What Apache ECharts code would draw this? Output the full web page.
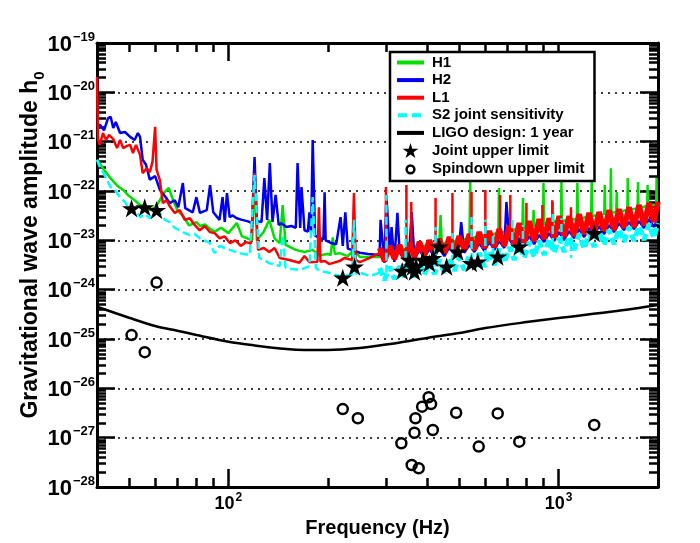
<!DOCTYPE html>
<html><head><meta charset="utf-8">
<script src="https://cdn.jsdelivr.net/npm/echarts@6/dist/echarts.min.js"></script>
<style>html,body{margin:0;padding:0;background:#fff}#c{width:700px;height:543px}</style>
</head><body><div id="c"></div>
<script>
// ---- tick positions ----
const xMajorTicks = [100, 1000];
const xMinorTicks = [50, 60, 70, 80, 90, 200, 300, 400, 500, 600, 700, 800, 900];
const yMajorTicks = [1e-28, 1e-27, 1e-26, 1e-25, 1e-24, 1e-23, 1e-22, 1e-21, 1e-20, 1e-19];
const yMinorTicks = [];
for (let e = -28; e < -19; e++) for (let m = 2; m <= 9; m++) yMinorTicks.push(+(m + 'e' + e));

// ---- data: [frequency Hz, h0] ----
const h1 = [[40,4.3e-22],[42,2.7e-22],[44,1.8e-22],[46,1.3e-22],[48,1.05e-22],[50,7.9e-23],[52,6.5e-23],[54,5.2e-23],[56,4.9e-23],[58,4.1e-23],[60,4.7e-23],[62,6.5e-23],[64,9.5e-23],[66,1.15e-22],[68,6.5e-23],[70,4.1e-23],[73,3.1e-23],[76,2.0e-23],[80,2.35e-23],[82,1.95e-23],[85,2.1e-23],[88,1.7e-23],[91,1.5e-23],[95,1.8e-23],[100,1.4e-23],[106,2.25e-23],[110,1.2e-23],[114,1.1e-23],[118,1.0e-23],[120,2.1e-22],[122,1.0e-23],[128,1.5e-23],[133,2.6e-23],[138,1.1e-23],[143,8.8e-24],[146,5.2e-23],[149,8.1e-24],[160,6.4e-24],[170,5.8e-24],[180,6.4e-24],[189,5.0e-24],[200,5.3e-24],[204,5.0e-24],[207,1.15e-23],[210,5.3e-24],[217,5.5e-24],[230,4.8e-24],[240,6.4e-24],[250,4.6e-24],[287,4.6e-24],[330,6.4e-24],[390,7.7e-24],[435,8.4e-24],[439,3.25e-23],[443,8.4e-24],[500,1.0e-23],[537,1.1e-23],[540,1.67e-22],[543,1.1e-23],[600,1.28e-23],[657,1.4e-23],[660,1.15e-22],[663,1.4e-23],[720,1.62e-23],[777,1.78e-23],[780,7.2e-23],[783,1.78e-23],[837,1.95e-23],[840,4.1e-23],[843,1.95e-23],[897,2.15e-23],[900,1.45e-22],[903,2.15e-23],[957,2.35e-23],[960,6.0e-23],[963,2.35e-23],[1017,2.46e-23],[1020,1.67e-22],[1023,2.46e-23],[1136,2.7e-23],[1140,1.45e-22],[1144,2.7e-23],[1255,3.1e-23],[1260,2.0e-22],[1265,3.1e-23],[1375,3.4e-23],[1380,1.32e-22],[1385,3.4e-23],[1435,3.6e-23],[1440,2.9e-22],[1445,3.6e-23],[1495,3.75e-23],[1500,9.5e-23],[1505,3.75e-23],[1615,4.1e-23],[1620,1.83e-22],[1625,4.1e-23],[1735,4.5e-23],[1740,1.52e-22],[1745,4.5e-23],[1855,4.95e-23],[1860,1.32e-22],[1865,4.95e-23],[1975,5.2e-23],[1980,1.83e-22],[1985,5.2e-23],[2000,5.2e-23]];

const h2 = [[40,2.0e-21],[40.8,2.2e-21],[42,1.7e-21],[43.2,3.0e-21],[44,3.2e-21],[44.8,1.9e-21],[45.6,2.5e-21],[47,1.5e-21],[48.6,1.57e-21],[50.4,1.25e-21],[52,1.08e-21],[53.2,1.5e-21],[54,1.25e-21],[55,4.3e-22],[56.3,3.4e-22],[57.8,1.7e-22],[60,2.0e-22],[62,1.05e-22],[64.2,7.9e-23],[66.4,5.7e-23],[68.8,6.5e-23],[70.5,4.7e-23],[72.8,1.45e-22],[74,4.5e-23],[78,3.7e-23],[80,7.5e-23],[82,3.6e-23],[86,4.1e-23],[88,1.32e-22],[90,3.7e-23],[94,2.6e-23],[96,7.5e-23],[97.5,2.35e-23],[99,9.1e-23],[100.9,2.95e-23],[103,3.2e-23],[106,2.8e-23],[110,2.6e-23],[114,2.45e-23],[118,2.25e-23],[120,4.9e-22],[122,2.45e-23],[126,2.35e-23],[128.5,1.83e-22],[131,2.6e-23],[133.5,3.7e-22],[136,2.35e-23],[139,8.3e-23],[142,2.05e-23],[145,2.2e-23],[150,1.86e-23],[155,1.95e-23],[160,1.8e-23],[162,3.7e-22],[165,1.78e-23],[166.5,1.2e-22],[170,1.6e-23],[174,1.5e-23],[176,3.7e-23],[178,1.4e-23],[180,1.08e-21],[183,1.25e-23],[190,1.1e-23],[194,1.05e-23],[195.6,9.4e-23],[197,1.0e-23],[205,8.8e-24],[212,8.3e-24],[218.6,2.95e-23],[222,7.7e-24],[226,3.7e-23],[230,6.8e-24],[240,6.2e-24],[250,5.6e-24],[265,5.3e-24],[287,5.05e-24],[289,2.6e-23],[297,3.5e-24],[301,8.3e-23],[308,5.3e-24],[312,1.86e-23],[318,3.65e-24],[325,3.6e-23],[330,5.8e-24],[341,4.0e-24],[353,6.1e-24],[359,3.75e-23],[366,4.2e-24],[379,6.4e-24],[392,4.4e-24],[406,6.7e-24],[421,4.6e-24],[435,7.0e-24],[451,4.8e-24],[467,7.35e-24],[483,5.3e-24],[500,7.7e-24],[507,2.35e-23],[518,5.55e-24],[537,8.1e-24],[556,5.8e-24],[575,8.8e-24],[596,6.1e-24],[617,9.3e-24],[639,6.4e-24],[661,9.7e-24],[685,7.0e-24],[695,6.0e-23],[709,1.06e-23],[734,7.35e-24],[760,1.11e-23],[787,8.1e-24],[815,1.22e-23],[843,8.4e-24],[873,1.28e-23],[904,9.3e-24],[936,1.4e-23],[969,9.7e-24],[1004,1.47e-23],[1039,1.01e-23],[1076,1.54e-23],[1114,1.11e-23],[1154,1.7e-23],[1195,1.17e-23],[1237,1.78e-23],[1281,1.28e-23],[1326,1.95e-23],[1373,1.34e-23],[1422,2.04e-23],[1472,1.47e-23],[1524,2.24e-23],[1578,1.62e-23],[1634,2.35e-23],[1692,1.7e-23],[1752,2.46e-23],[1814,1.78e-23],[1878,2.7e-23],[1944,1.86e-23],[2000,2.8e-23]];

// L1: low-frequency trace, dense high-frequency noise band, and line spikes
const l1 = [[40,2.05e-20],[40.3,1.08e-21],[40.8,8.6e-22],[41.7,1.5e-21],[42.6,1.08e-21],[43.5,1.37e-21],[44.8,1.13e-21],[46,7.4e-22],[47,1.08e-21],[48,7.4e-22],[49.3,8.2e-22],[50.4,8.6e-22],[51.4,5.9e-22],[52.5,8.6e-22],[54,5.4e-22],[55,2.3e-22],[56.6,2.9e-22],[57.8,2.4e-22],[58.9,3.9e-22],[60,2.0e-21],[60.6,2.7e-22],[62,1.67e-22],[63.3,5.7e-23],[65,6.5e-23],[66.4,4.9e-23],[68.8,3.6e-23],[71.2,4.1e-23],[73.8,2.6e-23],[76.4,2.8e-23],[79,2.05e-23],[81.9,1.6e-23],[84.8,1.95e-23],[87.8,1.47e-23],[90.9,1.4e-23],[94.1,1.1e-23],[97.4,1.2e-23],[101,8.8e-24],[105,1.0e-23],[109,7.7e-24],[113,9.2e-24],[117,8.6e-24],[120,2.3e-22],[123,6.4e-24],[128,7.0e-24],[133,5.8e-24],[138,7.0e-24],[143,4.4e-24],[153,4.0e-24],[164,3.5e-24],[170,4.8e-24],[176,3.6e-24],[186,3.7e-24],[188,4.7e-23],[190,3.7e-24],[196,3.8e-24],[202,3.3e-24],[217,3.8e-24],[225,4.4e-24],[237,4.0e-24],[240,9.1e-23],[243,4.0e-24],[250,3.6e-24],[268,4.4e-24],[287,5.5e-24]];
const l1Band = [[287,7.0e-24],[297,3.8e-24],[308,7.7e-24],[318,4.2e-24],[330,8.1e-24],[341,4.4e-24],[353,8.8e-24],[366,4.6e-24],[379,9.3e-24],[392,5.0e-24],[406,1.0e-23],[421,5.3e-24],[435,1.06e-23],[451,5.55e-24],[467,1.17e-23],[483,5.8e-24],[500,1.22e-23],[518,6.4e-24],[537,1.34e-23],[556,6.4e-24],[575,1.47e-23],[596,7.0e-24],[617,1.54e-23],[639,7.35e-24],[661,1.7e-23],[685,7.7e-24],[709,1.95e-23],[734,8.4e-24],[760,2.24e-23],[787,8.8e-24],[815,2.46e-23],[843,9.7e-24],[873,2.7e-23],[904,1.06e-23],[936,2.8e-23],[969,1.11e-23],[1004,3.1e-23],[1039,1.17e-23],[1076,3.1e-23],[1114,1.22e-23],[1154,3.4e-23],[1195,1.34e-23],[1237,3.6e-23],[1281,1.4e-23],[1326,3.75e-23],[1373,1.54e-23],[1422,4.1e-23],[1472,1.62e-23],[1524,4.3e-23],[1578,1.78e-23],[1634,4.7e-23],[1692,1.86e-23],[1752,5.2e-23],[1814,2.04e-23],[1878,5.7e-23],[1944,2.35e-23],[2000,6.0e-23]];
const l1Lines = [[300,5.55e-24],[300,1.2e-22],[300,'-'],[346,6.4e-24],[346,1.32e-22],[346,'-'],[358,6.7e-24],[358,6.0e-23],[358,'-'],[424,7.7e-24],[424,7.2e-23],[424,'-'],[477,8.4e-24],[477,9.1e-23],[477,'-'],[545,9.7e-24],[545,9.5e-23],[545,'-'],[600,1.06e-23],[600,1.05e-22],[600,'-'],[665,1.11e-23],[665,8.3e-23],[665,'-'],[714,1.28e-23],[714,8.3e-23],[714,'-'],[799,1.47e-23],[799,5.7e-23],[799,'-'],[893,1.7e-23],[893,5.2e-23],[893,'-'],[957,1.78e-23],[957,6.5e-23],[957,'-'],[1090,2.04e-23],[1090,4.7e-23]];

// S2 joint sensitivity: low-frequency trace, noise band, line spikes
const s2joint = [[40,4.3e-22],[40.8,3.07e-22],[42,2.2e-22],[44,1.2e-22],[45.3,1.05e-22],[47,7.5e-23],[48.6,6.0e-23],[50.4,4.1e-23],[52,4.5e-23],[54,2.95e-23],[56,3.4e-23],[57.8,2.8e-23],[60,3.7e-23],[62,3.55e-23],[64.2,2.6e-23],[66.4,2.35e-23],[68.8,1.78e-23],[71.2,1.6e-23],[73.8,1.4e-23],[76.4,1.28e-23],[79,1.34e-23],[81.9,1.1e-23],[84.8,1.0e-23],[87.8,8.8e-24],[90.9,5.5e-24],[94.1,7.7e-24],[97.4,7.0e-24],[101,6.4e-24],[108,5.5e-24],[116,5.0e-24],[120,2.1e-22],[124,4.4e-24],[133,3.45e-24],[143,3.0e-24],[146,1.28e-23],[149,2.75e-24],[164,2.5e-24],[176,3.0e-24],[180,7.5e-23],[184,2.75e-24],[189,2.4e-24],[202,2.2e-24],[217,1.9e-24],[237,2.0e-24],[240,2.6e-23],[243,2.1e-24],[250,2.2e-24],[268,1.9e-24],[287,2.2e-24]];
const s2Band = [[287,2.75e-24],[297,1.57e-24],[308,2.9e-24],[318,1.65e-24],[330,3.0e-24],[341,1.8e-24],[353,3.15e-24],[366,1.8e-24],[379,3.5e-24],[392,2.0e-24],[406,3.65e-24],[421,2.08e-24],[435,4.0e-24],[451,2.2e-24],[467,4.4e-24],[483,2.4e-24],[500,4.6e-24],[518,2.5e-24],[537,5.05e-24],[556,2.75e-24],[575,5.55e-24],[596,2.9e-24],[617,6.1e-24],[639,3.15e-24],[661,6.7e-24],[685,3.5e-24],[709,7.35e-24],[734,4.0e-24],[760,8.4e-24],[787,4.4e-24],[815,9.3e-24],[843,4.6e-24],[873,9.7e-24],[904,5.05e-24],[936,1.06e-23],[969,5.55e-24],[1004,1.11e-23],[1039,5.8e-24],[1076,1.22e-23],[1114,6.4e-24],[1154,1.34e-23],[1195,6.7e-24],[1237,1.4e-23],[1281,7.35e-24],[1326,1.54e-23],[1373,8.1e-24],[1422,1.62e-23],[1472,8.4e-24],[1524,1.7e-23],[1578,9.3e-24],[1634,1.86e-23],[1692,9.7e-24],[1752,1.95e-23],[1814,1.01e-23],[1878,2.15e-23],[1944,1.11e-23],[2000,2.24e-23]];
const s2Lines = [[301,2.2e-24],[301,8.3e-23],[301,'-'],[344,2.4e-24],[344,2.6e-23],[344,'-'],[424,2.9e-24],[424,1.86e-23],[424,'-'],[477,3.5e-24],[477,1.4e-23],[477,'-'],[545,3.8e-24],[545,3.6e-23],[545,'-'],[600,4.4e-24],[600,2.6e-23],[600,'-'],[633,4.8e-24],[633,1.28e-23],[633,'-'],[724,5.8e-24],[724,2.6e-23],[724,'-'],[780,6.1e-24],[780,2.04e-23],[780,'-'],[960,7.7e-24],[960,3.6e-23],[960,'-'],[1020,8.4e-24],[1020,2.8e-23],[1020,'-'],[1090,8.8e-24],[1090,4.4e-24]];

const ligoDesign = [[40,4.5e-25],[50,2.7e-25],[60,1.83e-25],[70,1.47e-25],[80,1.21e-25],[100,8.8e-26],[120,7.4e-26],[150,6.25e-26],[170,6.0e-26],[200,6.0e-26],[250,6.55e-26],[300,7.7e-26],[400,1.05e-25],[500,1.32e-25],[600,1.67e-25],[800,2.2e-25],[1000,2.67e-25],[1500,3.7e-25],[2000,4.9e-25]];

const jointUpper = [[50.9,4.45e-23],[55.8,4.67e-23],[60.6,4.1e-23],[222,1.75e-24],[241,2.93e-24],[336,2.39e-24],[353,4.0e-24],[361,2.93e-24],[366,2.32e-24],[370,2.93e-24],[388,4.0e-24],[406,3.43e-24],[416,4.33e-24],[435,7.44e-24],[458,2.93e-24],[495,5.9e-24],[544,3.43e-24],[569,3.69e-24],[654,4.67e-24],[760,7.44e-24],[1282,1.39e-23]];

const spindown = [[50.9,1.2e-25],[55.8,5.4e-26],[60.6,1.39e-24],[222,3.8e-27],[246.6,2.47e-27],[334,7.7e-28],[359,2.79e-28],[366,1.26e-27],[368.6,2.47e-27],[377,2.4e-28],[386,4.25e-27],[404,6.6e-27],[411,4.8e-27],[416,1.43e-27],[489.5,3.2e-27],[573,6.6e-28],[654,3.1e-27],[760,8.3e-28],[1282,1.81e-27]];

// ---- chart ----
const FONT = '"Liberation Sans", Arial, Helvetica, sans-serif';
const STAR = 'path://M50,0L61.8,36.2L100,36.2L69.1,58.6L80.9,95.1L50,72.6L19.1,95.1L30.9,58.6L0,36.2L38.2,36.2Z';
const BAR = 'path://M0,0M27,15M0,5.5H27V9.5H0Z';
const DASHBAR = 'path://M0,0M27,15M1,5.5H10V9.5H1ZM15,5.5H24V9.5H15Z';
const RING = 'path://M0,0M100,100M76,50A26,26,0,1,1,24,50A26,26,0,1,1,76,50Z';
const gridLine = {color: '#000', width: 1.5, type: [2, 5]};

function xAx(position, ticks, len, main) {
  return {
    type: 'log', logBase: 10, min: 40, max: 2000, position: position, gridIndex: 0,
    axisLine: {show: main, onZero: false, lineStyle: {color: '#000', width: 3}},
    axisTick: {show: true, inside: true, length: len, customValues: ticks, lineStyle: {color: '#000', width: 2.5}},
    axisLabel: main && position === 'bottom' ? {
      show: true, customValues: xMajorTicks, margin: 5,
      formatter: v => '{b|10}{s|' + Math.round(Math.log10(v)) + '}',
      rich: {
        b: {fontFamily: FONT, fontWeight: 'bold', fontSize: 18, color: '#000', verticalAlign: 'bottom'},
        s: {fontFamily: FONT, fontWeight: 'bold', fontSize: 12, color: '#000', verticalAlign: 'bottom', padding: [0, 0, 9, 1]}
      }
    } : {show: false},
    splitLine: {show: main && position === 'bottom', showMinLine: false, showMaxLine: false, lineStyle: gridLine},
    name: main && position === 'bottom' ? 'Frequency (Hz)' : '',
    nameLocation: 'middle', nameGap: 31, nameMoveOverlap: false,
    nameTextStyle: {fontFamily: FONT, fontWeight: 'bold', fontSize: 20, color: '#000'}
  };
}
function yAx(position, ticks, len, main) {
  return {
    type: 'log', logBase: 10, min: 1e-28, max: 1e-19, position: position, gridIndex: 0,
    axisLine: {show: main, onZero: false, lineStyle: {color: '#000', width: 3}},
    axisTick: {show: true, inside: true, length: len, customValues: ticks, lineStyle: {color: '#000', width: 2.5}},
    axisLabel: main && position === 'left' ? {
      show: true, customValues: yMajorTicks, margin: 2,
      formatter: v => '{b|10}{s|\u2212' + Math.abs(Math.round(Math.log10(v))) + '}',
      rich: {
        b: {fontFamily: FONT, fontWeight: 'bold', fontSize: 22, color: '#000', verticalAlign: 'bottom'},
        s: {fontFamily: FONT, fontWeight: 'bold', fontSize: 13, color: '#000', verticalAlign: 'bottom', padding: [0, 0, 12, 1]}
      }
    } : {show: false},
    splitLine: {show: main && position === 'left', showMinLine: false, showMaxLine: false, lineStyle: gridLine},
    name: main && position === 'left' ? '{n|Gravitational wave amplitude h}{u|0}' : '',
    nameLocation: 'middle', nameGap: 50, nameMoveOverlap: false,
    nameTextStyle: {
      padding: [0, 0, 0, 40],
      rich: {
        n: {fontFamily: FONT, fontWeight: 'bold', fontSize: 23, color: '#000', verticalAlign: 'bottom', padding: [0, 0, 5, 0]},
        u: {fontFamily: FONT, fontWeight: 'bold', fontSize: 15, color: '#000', verticalAlign: 'bottom'}
      }
    }
  };
}

function lineSeries(name, data, color, width, extra) {
  return Object.assign({
    name: name, type: 'line', data: data, xAxisIndex: 0, yAxisIndex: 0,
    showSymbol: false, symbol: 'none', clip: true, animation: false, connectNulls: false,
    lineStyle: {color: color, width: width}, itemStyle: {color: color}
  }, extra || {});
}
const CYAN = '#00ffff';
const cyanStyle = w => ({lineStyle: {color: CYAN, width: w, type: [8, 4]}});

const chart = echarts.init(document.getElementById('c'), null, {renderer: 'canvas'});
chart.setOption({
  backgroundColor: '#fff',
  animation: false,
  grid: {left: 97, top: 43, width: 561, height: 444, containLabel: false},
  xAxis: [
    xAx('bottom', xMajorTicks, 18, true),
    xAx('bottom', xMinorTicks, 9, false),
    xAx('top', xMajorTicks, 18, true),
    xAx('top', xMinorTicks, 9, false)
  ],
  yAxis: [
    yAx('left', yMajorTicks, 18, true),
    yAx('left', yMinorTicks, 9, false),
    yAx('right', yMajorTicks, 18, true),
    yAx('right', yMinorTicks, 9, false)
  ],
  legend: {
    orient: 'vertical', left: 390, top: 52,
    backgroundColor: '#fff', borderColor: '#000', borderWidth: 2.5, borderRadius: 0,
    padding: [3, 10, 3, 7], itemWidth: 27, itemHeight: 15, itemGap: 2.6,
    itemStyle: {borderWidth: 0},
    textStyle: {fontFamily: FONT, fontWeight: 'bold', fontSize: 15, color: '#000', lineHeight: 13, padding: [0, 0, 0, 3]},
    data: [
      {name: 'H1', icon: BAR},
      {name: 'H2', icon: BAR},
      {name: 'L1', icon: BAR},
      {name: 'S2 joint sensitivity', icon: DASHBAR},
      {name: 'LIGO design: 1 year', icon: BAR},
      {name: 'Joint upper limit', icon: STAR, itemStyle: {color: '#000', borderWidth: 0}},
      {name: 'Spindown upper limit', icon: RING, itemStyle: {color: 'rgba(255,255,255,0)', borderColor: '#000', borderWidth: 2.5}}
    ]
  },
  series: [
    lineSeries('H1', h1, '#00e000', 2.5),
    lineSeries('H2', h2, '#0000f0', 2.5),
    lineSeries('L1', l1Band, '#ff0000', 5.5),
    lineSeries('L1', l1, '#ff0000', 2.5),
    lineSeries('L1', l1Lines, '#ff0000', 2.5),
    lineSeries('S2 joint sensitivity', s2Band, CYAN, 5, cyanStyle(5)),
    lineSeries('S2 joint sensitivity', s2joint, CYAN, 2.5, cyanStyle(2.5)),
    lineSeries('S2 joint sensitivity', s2Lines, CYAN, 2.5, cyanStyle(2.5)),
    lineSeries('LIGO design: 1 year', ligoDesign, '#000000', 2.5, {smooth: 0.3}),
    {name: 'Joint upper limit', type: 'scatter', data: jointUpper, symbol: STAR, symbolSize: 19, symbolKeepAspect: true,
     itemStyle: {color: '#000', opacity: 1}, animation: false, z: 5},
    {name: 'Spindown upper limit', type: 'scatter', data: spindown, symbol: 'circle', symbolSize: 10,
     itemStyle: {color: 'rgba(255,255,255,0)', borderColor: '#000', borderWidth: 2.5, opacity: 1}, animation: false, z: 5}
  ]
});
</script>
</body></html>
